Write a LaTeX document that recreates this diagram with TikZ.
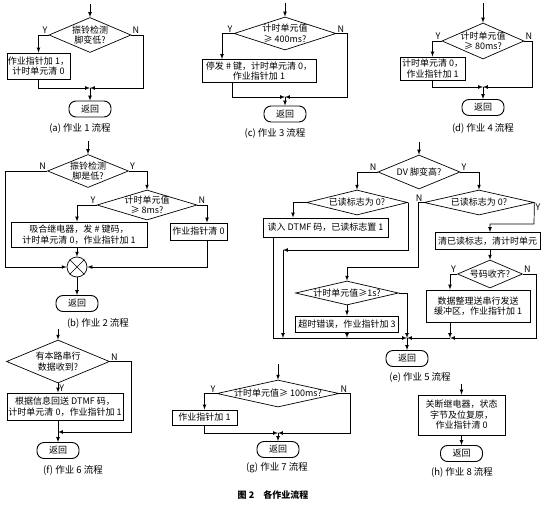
\documentclass[tikz,border=0pt]{standalone}
\usepackage{fontspec}
\setmainfont{Noto Sans CJK SC}
\usetikzlibrary{arrows,shapes.geometric,positioning}

\begin{document}
\begin{tikzpicture}[
x=1pt, y=-1pt,
dianode/.style={diamond, draw, inner sep=-4pt, align=center},
boxnode/.style={rectangle, draw, line width=0.9pt, inner sep=1pt, align=center},
termnode/.style={rectangle, draw, line width=0.9pt, rounded corners=7pt, minimum width=42pt, minimum height=16pt, inner sep=0pt},
yn/.style={inner sep=1pt, font=\fontsize{9}{10}\selectfont},
caption/.style={font=\fontsize{9.5}{11}\selectfont},
every node/.append style={font=\fontsize{9}{10.5}\selectfont},
line width=0.7pt]
\useasboundingbox (0,0) rectangle (548,505);
% (a) job 1
\coordinate (a0) at (90,4);
\node[dianode, aspect=2.34, minimum width=82pt, minimum height=35pt] (ad) at (90,35) {振铃检测\\脚变低?};
\node[boxnode, minimum width=63pt, minimum height=26pt] (a1) at (38.5,66) {作业指针加 1，\\计时单元清 0};
\coordinate (am) at (90,88);
\coordinate (aN) at (143,88);
\node[termnode] (ar) at (90,109) {返回};
\node[caption] at (80,128) {(a) 作业 1 流程};
\draw[arrows={-latex}] (a0) -- (ad);
\draw[arrows={-latex}] (ad.west) node[yn, above left] {Y} -| (a1.north);
\draw[arrows={-latex}] (ad.east) node[yn, above right] {N} -| (aN) -- (am);
\draw[arrows={-latex}] (a1.south) |- (am);
\draw[arrows={-latex}] (am) -- (ar);
% (c) job 3
\coordinate (c0) at (285,3);
\node[dianode, aspect=3.1, minimum width=102pt, minimum height=33pt] (cd) at (285,33.5) {计时单元值\\≥ 400ms?};
\node[boxnode, minimum width=114pt, minimum height=23pt] (c1) at (259,71) {停发 \# 键，计时单元清 0，\\作业指针加 1};
\coordinate (cm) at (285,97);
\coordinate (cN) at (347,97);
\node[termnode] (cr) at (285,114) {返回};
\node[caption] at (275,133) {(c) 作业 3 流程};
\draw[arrows={-latex}] (c0) -- (cd);
\draw[arrows={-latex}] (cd.west) node[yn, above left] {Y} -| ([xshift=-37pt]c1.north);
\draw[arrows={-latex}] (cd.east) node[yn, above right] {N} -| (cN) -- (cm);
\draw[arrows={-latex}] ([xshift=-27pt]c1.south) |- (cm);
\draw[arrows={-latex}] (cm) -- (cr);
% (d) job 4
\coordinate (d0) at (483,3);
\node[dianode, aspect=2.28, minimum width=82pt, minimum height=36pt] (dd) at (483,41) {计时单元值\\≥ 80ms?};
\node[boxnode, minimum width=65pt, minimum height=23pt] (d1) at (432.5,68.5) {计时单元清 0，\\作业指针加 1};
\coordinate (dm) at (483,87);
\coordinate (dN) at (532,87);
\node[termnode] (dr) at (483,107.5) {返回};
\node[caption] at (483,128) {(d) 作业 4 流程};
\draw[arrows={-latex}] (d0) -- (dd);
\draw[arrows={-latex}] (dd.west) node[yn, above left] {Y} -| (d1.north);
\draw[arrows={-latex}] (dd.east) node[yn, above right] {N} -| (dN) -- (dm);
\draw[arrows={-latex}] (d1.south) |- (dm);
\draw[arrows={-latex}] (dm) -- (dr);
% (b) job 2
\coordinate (b0) at (88,141);
\node[dianode, aspect=2.45, minimum width=81pt, minimum height=33pt] (bd) at (88,171) {振铃检测\\脚是低?};
\node[dianode, aspect=3.33, minimum width=100pt, minimum height=30pt] (be) at (147,205) {计时单元值\\≥ 8ms?};
\node[boxnode, minimum width=136pt, minimum height=25pt] (b1) at (79,234.5) {吸合继电器，发 \# 键码，\\计时单元清 0，作业指针加 1};
\node[boxnode, minimum width=57pt, minimum height=17pt] (b2) at (198.5,231.5) {作业指针清 0};
\node[circle, draw, minimum size=20pt, inner sep=0pt] (bx) at (77,267) {};
\coordinate (bN) at (5,267);
\node[termnode] (br) at (77,303.5) {返回};
\node[caption] at (98,323) {(b) 作业 2 流程};
\draw (bx.45) -- (bx.225) (bx.135) -- (bx.315);
\draw[arrows={-latex}] (b0) -- (bd);
\draw[arrows={-latex}] (bd.west) node[yn, above left] {N} -| (bN) -- (bx);
\draw[arrows={-latex}] (bd.east) node[yn, above right] {Y} -| (be.north);
\draw[arrows={-latex}] (be.west) node[yn, above left] {Y} -| ([xshift=-2pt]b1.north);
\draw[arrows={-latex}] (be.east) node[yn, above right] {N} -| ([xshift=8.5pt]b2.north);
\draw[arrows={-latex}] ([xshift=8.5pt]b2.south) |- (bx);
\draw[arrows={-latex}] ([xshift=-2pt]b1.south) -- (bx);
\draw[arrows={-latex}] (bx) -- (br);
% (e) job 5
\coordinate (e0) at (419,142);
\node[dianode, aspect=2.4, minimum width=82pt, minimum height=34pt] (ed) at (419,172) {DV 脚变高?};
\node[dianode, aspect=4.04, minimum width=101pt, minimum height=25pt] (el) at (357,202.5) {已读标志为 0?};
\node[dianode, aspect=4.4, minimum width=110pt, minimum height=25pt] (er) at (479,202.5) {已读标志为 0?};
\node[boxnode, minimum width=125pt, minimum height=19pt] (e1) at (325.5,227.5) {读入 DTMF 码，已读标志置 1};
\node[dianode, aspect=4.3, minimum width=103pt, minimum height=24pt] (es) at (347,293) {计时单元值≥1s?};
\node[boxnode, minimum width=103pt, minimum height=16pt] (e2) at (347,324) {超时错误，作业指针加 3};
\node[boxnode, minimum width=105pt, minimum height=17pt] (e3) at (487.5,241) {清已读标志，清计时单元};
\node[dianode, aspect=2.3, minimum width=65pt, minimum height=28pt] (eh) at (490,274) {号码收齐?};
\node[boxnode, minimum width=104pt, minimum height=32pt] (e4) at (478,306) {数据整理送串行发送\\缓冲区，作业指针加 1};
\coordinate (em) at (407,338);
\coordinate (eB) at (283,250);
\coordinate (eC) at (283,338);
\coordinate (eK) at (418,267);
\coordinate (eY) at (534,224);
\coordinate (eN) at (536,338);
\coordinate (eD) at (450,338);
\node[termnode] (et) at (407,358.5) {返回};
\node[caption] at (420,377) {(e) 作业 5 流程};
\draw[arrows={-latex}] (e0) -- (ed);
\draw[arrows={-latex}] (ed.west) node[yn, above left] {N} -| (el.north);
\draw[arrows={-latex}] (ed.east) node[yn, above right] {Y} -| (er.north);
\draw[arrows={-latex}] (el.west) -| ([xshift=-32.5pt]e1.north);
\draw[arrows={-latex}] (el.east) -- (el.east |- eB) -- (eB);
\draw[arrows={-latex}] (eB) -- (eC);
\draw[arrows={-latex}] ([xshift=-52.5pt]e1.south) |- (em);
\draw[arrows={-latex}] (er.west) node[yn, above left] {N} -| (eK) -| (es.north);
\draw[arrows={-latex}] (er.east) node[yn, below right] {Y} -- (eY) -| ([xshift=2.5pt]e3.north);
\draw[arrows={-latex}] (es) -- (e2);
\draw[arrows={-latex}] (e2) -- (e2 |- em);
\draw[arrows={-latex}] (es.east) -| (em);
\draw[arrows={-latex}] (eh.north |- e3.south) -- (eh);
\draw[arrows={-latex}] (eh.west) node[yn, above left] {Y} -| ([xshift=-28pt]e4.north);
\draw[arrows={-latex}] (eh.east) node[yn, above right] {N} -| (eN) -- (eD);
\draw[arrows={-latex}] ([xshift=-28pt]e4.south) -- (eD);
\draw[arrows={-latex}] (eD) -- (em);
\draw[arrows={-latex}] (em) -- (et);
% (f) job 6
\coordinate (f0) at (58,329);
\node[dianode, aspect=2.4, minimum width=103pt, minimum height=43pt] (fd) at (58,361.5) {有本路串行\\数据收到?};
\node[boxnode, minimum width=116pt, minimum height=27pt] (f1) at (65,406.5) {根据信息回送 DTMF 码，\\计时单元清 0，作业指针加 1};
\coordinate (fm) at (58,432);
\coordinate (fN) at (131,432);
\node[termnode] (fr) at (58,450.5) {返回};
\node[caption] at (73,470) {(f) 作业 6 流程};
\draw[arrows={-latex}] (f0) -- (fd);
\draw[arrows={-latex}] (fd.south) node[yn, below right] {Y} -- (fd.south |- f1.north);
\draw[arrows={-latex}] (fd.east) node[yn, above right] {N} -| (fN) -- (fm);
\draw[arrows={-latex}] (fd.south |- f1.south) -- (fr);
% (g) job 7
\coordinate (g0) at (278,364);
\node[dianode, aspect=4.5, minimum width=122pt, minimum height=27pt] (gd) at (278,393.5) {计时单元值≥ 100ms?};
\node[boxnode, minimum width=65pt, minimum height=15pt] (g1) at (204.5,417.5) {作业指针加 1};
\coordinate (gm) at (278,433);
\coordinate (gN) at (350,433);
\node[termnode] (gr) at (278,449.5) {返回};
\node[caption] at (277,468) {(g) 作业 7 流程};
\draw[arrows={-latex}] (g0) -- (gd);
\draw[arrows={-latex}] (gd.west) node[yn, above left] {Y} -| (g1.north);
\draw[arrows={-latex}] (gd.east) node[yn, above right] {N} -| (gN) -- (gm);
\draw[arrows={-latex}] (g1.south) |- (gm);
\draw[arrows={-latex}] (gm) -- (gr);
% (h) job 8
\coordinate (h0) at (461,384);
\node[boxnode, minimum width=87pt, minimum height=40pt] (h1) at (461.5,415) {关断继电器，状态\\字节及位复原，\\作业指针清 0};
\node[termnode] (hr) at (461.5,453.5) {返回};
\node[caption] at (462,472) {(h) 作业 8 流程};
\draw[arrows={-latex}] (h0 -| h1) -- (h1);
\draw[arrows={-latex}] (h1) -- (hr);
% title
\node[caption, font=\fontsize{9}{11}\selectfont\bfseries] at (273,495) {图 2\quad 各作业流程};
\end{tikzpicture}
\end{document}
